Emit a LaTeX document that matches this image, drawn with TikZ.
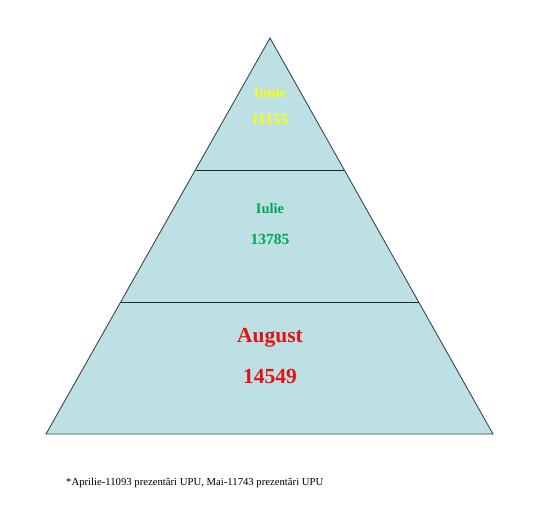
\documentclass[tikz,border=0pt]{standalone}
\usepackage{fontspec}
\setmainfont{Liberation Serif}
\definecolor{pyrfill}{RGB}{188,224,227}
\definecolor{pyredge}{RGB}{60,72,78}
\definecolor{sepline}{RGB}{20,45,45}
\definecolor{tyellow}{RGB}{255,255,0}
\definecolor{tgreen}{RGB}{0,168,80}
\definecolor{tred}{RGB}{225,20,20}
\tikzset{
  lbl/.style={inner sep=0pt, anchor=center}
}
\begin{document}
\begin{tikzpicture}[x=1pt,y=-1pt]
\useasboundingbox (0,0) rectangle (544,509);
\fill[white] (0,0) rectangle (544,509);
\coordinate (apex) at (270,38);
\coordinate (bl) at (46,434);
\coordinate (br) at (493,434);
\coordinate (l1) at (195.5,170);
\coordinate (r1) at (344.3,170);
\coordinate (l2) at (121,302);
\coordinate (r2) at (418.7,302);
\filldraw[fill=pyrfill, draw=pyredge, line width=0.9pt, line join=miter] (apex) -- (br) -- (bl) -- cycle;
\draw[sepline, line width=1pt] (l1) -- (r1);
\draw[sepline, line width=1pt] (l2) -- (r2);
\node[lbl, text=tyellow, font=\bfseries\fontsize{14.5}{16}\selectfont] (t1) at (270,93) {Iunie};
\node[lbl, text=tyellow, font=\bfseries\fontsize{15.5}{17}\selectfont] (n1) at (270,119) {11155};
\node[lbl, text=tgreen, font=\bfseries\fontsize{14.5}{16}\selectfont] (t2) at (270,209) {Iulie};
\node[lbl, text=tgreen, font=\bfseries\fontsize{15.5}{17}\selectfont] (n2) at (270,239) {13785};
\node[lbl, text=tred, font=\bfseries\fontsize{21.5}{24}\selectfont] (t3) at (270,338) {August};
\node[lbl, text=tred, font=\bfseries\fontsize{21.5}{24}\selectfont] (n3) at (270,376) {14549};
\node[anchor=west, inner sep=0pt, font=\fontsize{10.7}{12}\selectfont] (foot) at (66,483)
  {*Aprilie-11093 prezentări UPU, Mai-11743 prezentări UPU};
\end{tikzpicture}
\end{document}
